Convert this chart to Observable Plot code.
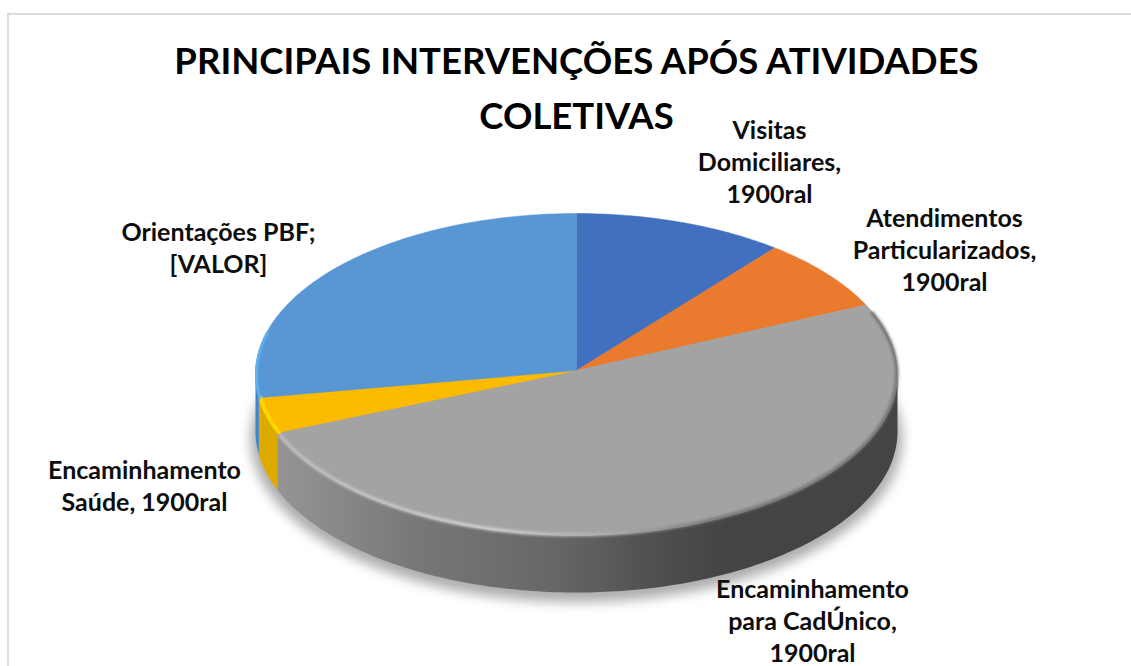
<!DOCTYPE html>
<html lang="pt">
<head>
<meta charset="utf-8">
<script src="https://cdn.jsdelivr.net/npm/d3@7"></script>
<script src="https://cdn.jsdelivr.net/npm/@observablehq/plot@0.6"></script>
<style>
html,body{margin:0;padding:0;background:#fff;overflow:hidden}
#wrap{position:relative;width:1131px;height:666px;overflow:hidden}
#border{position:absolute;left:7px;top:13px;width:1200px;height:800px;border:2px solid #dcdcdc;box-sizing:border-box}
#wrap svg{position:absolute;left:0;top:0;background:transparent}
</style>
</head>
<body>
<div id="wrap"><div id="border"></div></div>
<script>
// ---- data (percent of the pie, clockwise from 12 o'clock)
const categories = ["Visitas Domiciliares", "Atendimentos Particularizados", "Encaminhamento para CadÚnico", "Encaminhamento Saúde", "Orientações PBF"];
const values = [10.6, 7.3, 51.2, 3.6, 27.3];
const labelTexts = [
  "Visitas\nDomiciliares,\n1900ral",
  "Atendimentos\nParticularizados,\n1900ral",
  "Encaminhamento\npara CadÚnico,\n1900ral",
  "Encaminhamento\nSaúde, 1900ral",
  "Orientações PBF;\n[VALOR]"
];
const titleText = "PRINCIPAIS INTERVENÇÕES APÓS ATIVIDADES\nCOLETIVAS";

// ---- style and layout
const topColors = ["#4170bf", "#ea7b2e", "#a3a3a3", "#fdbb00", "#5897d3"];
const wallFills = ["#36599a", "#b85f22", "url(#wallGray)", "#deaa00", "#3f86c8"];
const W = 1131, H = 666;
const cx = 576, cy = 374, rx = 321, ry = 161, apexLift = 4, depth = 57;
const labelCenters = [[769, 160], [944, 248], [812, 619], [144, 484], [218, 246]];
const toX = px => (px - cx) / rx, toY = py => (cy - py) / ry;

// ---- geometry derived from the values
const total = d3.sum(values);
let acc = 0;
const slices = values.map((v, i) => {
  const a0 = acc / total * 360; acc += v; const a1 = acc / total * 360;
  return {i, name: categories[i], a0, a1};
});
const rad = d => d * Math.PI / 180;
const ring = (a, z = 0) => ({x: Math.sin(rad(a)), y: Math.cos(rad(a)) - z});
const arc = (a0, a1, z = 0) => {
  const n = Math.max(2, Math.ceil(Math.abs(a1 - a0)));
  return d3.range(n + 1).map(k => ring(a0 + (a1 - a0) * k / n, z));
};
const apex = {x: 0, y: apexLift / ry};
const zu = depth / ry;
const topFace = s => [apex, ...arc(s.a0, s.a1), apex];
const wall = s => {
  const a = Math.max(s.a0, 90), b = Math.min(s.a1, 270);
  return b > a ? [...arc(a, b), ...arc(b, a, zu)] : [];
};
const line = (pts, o) => Plot.line(pts, {x: "x", y: "y", curve: "linear", ...o});

const marks = [
  // soft shadow beneath the disc
  line(arc(0, 360).map(p => ({x: p.x * 1.015, y: p.y * 1.015 - zu - 0.045})), {
    fill: "#000", fillOpacity: 0.32, stroke: "none", imageFilter: "blur(6px)"
  }),
  // side walls
  ...slices.map(s => line(wall(s), {fill: wallFills[s.i], stroke: "none"})),
  // top faces
  ...slices.map(s => line(topFace(s), {fill: topColors[s.i], stroke: topColors[s.i], strokeWidth: 0.5})),
  // bevels on the rim
  line(arc(slices[2].a0 + 3, slices[2].a1 - 1).map(p => ({x: p.x * 0.998, y: p.y * 0.996})), {
    stroke: "url(#rimGray)", strokeWidth: 3, imageFilter: "blur(1.5px)"
  }),
  line(arc(slices[3].a0, slices[3].a1).map(p => ({x: p.x * 0.995, y: p.y * 0.99})), {
    stroke: "#ffd400", strokeWidth: 4, imageFilter: "blur(0.6px)"
  }),
  line(arc(slices[4].a0, 285).map(p => ({x: p.x * 0.997, y: p.y * 0.997})), {
    stroke: "#62aeee", strokeWidth: 3, imageFilter: "blur(0.6px)"
  }),
  // labels
  Plot.text(labelTexts, {
    x: (d, i) => toX(labelCenters[i][0]), y: (d, i) => toY(labelCenters[i][1]),
    text: d => d, fontFamily: "Lato", fontWeight: "bold", fontSize: 25,
    lineHeight: 32 / 25, fill: "#0d0d0d", textAnchor: "middle", lineAnchor: "middle"
  }),
  // title
  Plot.text([titleText], {
    x: () => toX(576), y: () => toY(83), text: d => d,
    fontFamily: "Lato", fontWeight: "bold", fontSize: 36.5,
    lineHeight: 55 / 36.5, fill: "#000", textAnchor: "middle", lineAnchor: "middle"
  })
];

const svg = Plot.plot({
  width: W, height: H, margin: 0,
  x: {type: "linear", domain: [-1, 1], range: [cx - rx, cx + rx], axis: null},
  y: {type: "linear", domain: [-1, 1], range: [cy + ry, cy - ry], axis: null},
  style: {background: "transparent"},
  marks
});

// gradient definitions used by the side wall and the rim
const ns = "http://www.w3.org/2000/svg";
const defs = document.createElementNS(ns, "defs");
defs.innerHTML = `
<linearGradient id="wallGray" gradientUnits="userSpaceOnUse" x1="277" x2="898" y1="0" y2="0">
  <stop offset="0" stop-color="#959595"/><stop offset="0.22" stop-color="#787878"/>
  <stop offset="0.45" stop-color="#666"/><stop offset="0.62" stop-color="#4e4e4e"/>
  <stop offset="0.72" stop-color="#444"/><stop offset="1" stop-color="#444"/>
</linearGradient>
<linearGradient id="rimGray" gradientUnits="userSpaceOnUse" x1="277" x2="898" y1="0" y2="0">
  <stop offset="0" stop-color="#c4c4c4"/><stop offset="0.35" stop-color="#dadada"/>
  <stop offset="0.55" stop-color="#aaa"/><stop offset="0.7" stop-color="#707070"/>
  <stop offset="1" stop-color="#6a6a6a"/>
</linearGradient>`;
svg.insertBefore(defs, svg.firstChild);
document.getElementById("wrap").appendChild(svg);
</script>
</body>
</html>
